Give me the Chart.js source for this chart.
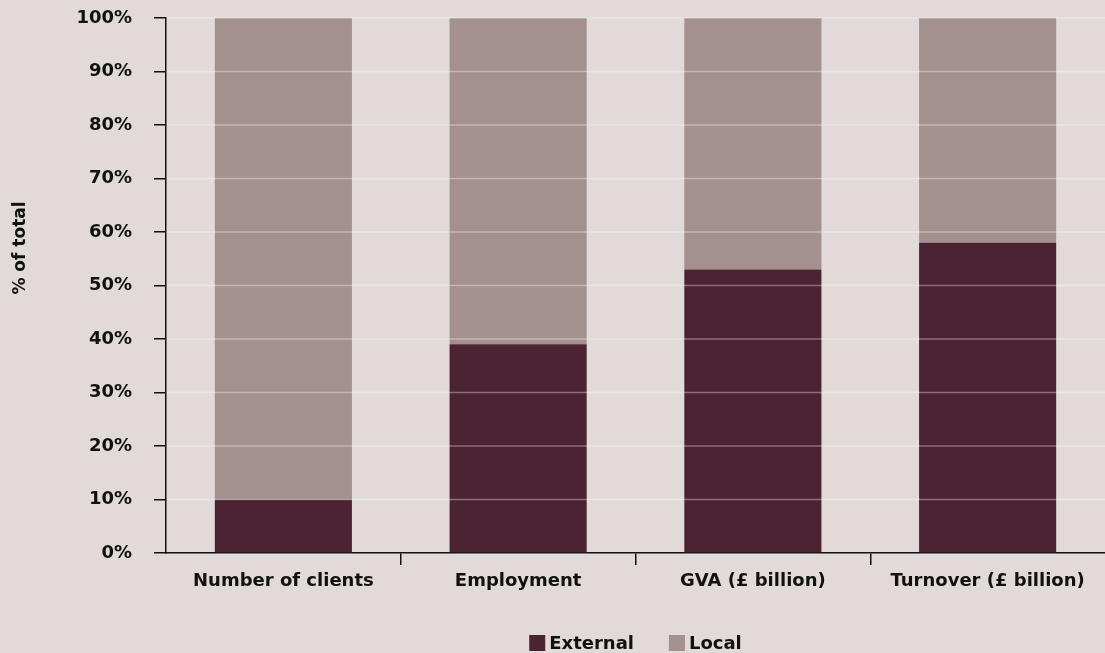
<!DOCTYPE html>
<html>
<head>
<meta charset="utf-8">
<script src="https://cdn.jsdelivr.net/npm/chart.js@4"></script>
<style>
  html, body { margin: 0; padding: 0; background: #e1dad9; }
  #wrap { width: 1105px; height: 653px; }
</style>
</head>
<body>
<div id="wrap"><canvas id="shareChart"></canvas></div>
<script>
// Share of total: external vs local
const categories = ['Number of clients', 'Employment', 'GVA (£ billion)', 'Turnover (£ billion)'];
const external = [10, 39, 53, 58];
const local = [90, 61, 47, 42];
const yTicks = [0, 10, 20, 30, 40, 50, 60, 70, 80, 90, 100];

const FONT = '"DejaVu Sans", sans-serif';
const INK = '#111111';
const BG = '#e1dad9';

// paint the background, put the light grid over the bars, draw title + legend
const decor = {
    id: 'decor',
    beforeDraw(chart) {
        const ctx = chart.ctx;
        ctx.save();
        ctx.fillStyle = BG;
        ctx.fillRect(0, 0, chart.width, chart.height);
        ctx.restore();
    },
    afterDatasetsDraw(chart) {
        const ctx = chart.ctx;
        const area = chart.chartArea;
        const y = chart.scales.y;
        ctx.save();
        ctx.strokeStyle = 'rgba(255,255,255,0.35)';
        ctx.lineWidth = 1.5;
        yTicks.forEach(v => {
            if (v === 0) return;
            const py = y.getPixelForValue(v);
            ctx.beginPath();
            ctx.moveTo(area.left + 1, py);
            ctx.lineTo(area.right, py);
            ctx.stroke();
        });
        ctx.restore();
    },
    afterDraw(chart) {
        const ctx = chart.ctx;
        const area = chart.chartArea;
        ctx.save();
        ctx.fillStyle = INK;

        // axis title
        ctx.font = 'bold 17px ' + FONT;
        ctx.translate(21, 248);
        ctx.rotate(-Math.PI / 2);
        ctx.textAlign = 'center';
        ctx.textBaseline = 'middle';
        ctx.fillText('% of total', 0, 0);
        ctx.setTransform(1, 0, 0, 1, 0, 0);

        // legend
        ctx.font = 'bold 18px ' + FONT;
        ctx.textAlign = 'left';
        ctx.textBaseline = 'middle';
        const box = 16, gap = 4, spacing = 35;
        const items = chart.data.datasets.map(ds => ({ text: ds.label, color: ds.backgroundColor }));
        const widths = items.map(it => box + gap + ctx.measureText(it.text).width);
        const total = widths.reduce((a, b) => a + b, 0) + spacing * (items.length - 1);
        let x = (area.left + area.right) / 2 - total / 2;
        const cy = 643;
        items.forEach((it, i) => {
            ctx.fillStyle = it.color;
            ctx.fillRect(x, cy - box / 2, box, box);
            ctx.fillStyle = INK;
            ctx.fillText(it.text, x + box + gap, cy + 1);
            x += widths[i] + spacing;
        });
        ctx.restore();
    }
};

const data = {
    labels: categories,
    datasets: [
        {
            label: 'External',
            data: external,
            backgroundColor: '#4b2332',
            categoryPercentage: 1,
            barPercentage: 0.584
        },
        {
            label: 'Local',
            data: local,
            backgroundColor: '#a4908e',
            categoryPercentage: 1,
            barPercentage: 0.584
        }
    ]
};

const config = {
    type: 'bar',
    data: data,
    options: {
        responsive: true,
        maintainAspectRatio: false,
        animation: false,
        layout: { padding: { top: 18, right: 0, left: 0, bottom: 0 } },
        plugins: {
            legend: { display: false },
            tooltip: { enabled: false }
        },
        scales: {
            x: {
                stacked: true,
                afterFit(scale) {
                    scale.height = 100;
                    scale.paddingLeft = 0;
                    scale.paddingRight = 0;
                },
                border: { display: true, color: INK, width: 1.5 },
                grid: {
                    offset: true,
                    drawOnChartArea: false,
                    drawTicks: true,
                    tickLength: 12,
                    lineWidth: 1.5,
                    color: c => (c.index >= 1 && c.index <= 3) ? INK : 'transparent'
                },
                ticks: {
                    color: INK,
                    padding: 6,
                    maxRotation: 0,
                    font: { family: FONT, size: 18, weight: 'bold' }
                }
            },
            y: {
                stacked: true,
                min: 0,
                max: 100,
                afterFit(scale) {
                    scale.width = 166;
                    scale.paddingTop = 0;
                    scale.paddingBottom = 0;
                },
                afterBuildTicks(scale) { scale.ticks = yTicks.map(v => ({ value: v })); },
                border: { display: true, color: INK, width: 1.5 },
                grid: {
                    drawOnChartArea: false,
                    drawTicks: true,
                    tickLength: 12,
                    lineWidth: 1.5,
                    color: INK
                },
                ticks: {
                    color: INK,
                    padding: 22,
                    font: { family: FONT, size: 18, weight: 'bold' },
                    callback: v => v + '%'
                }
            }
        }
    },
    plugins: [decor]
};

const chart = new Chart(document.getElementById('shareChart'), config);
</script>
</body>
</html>
